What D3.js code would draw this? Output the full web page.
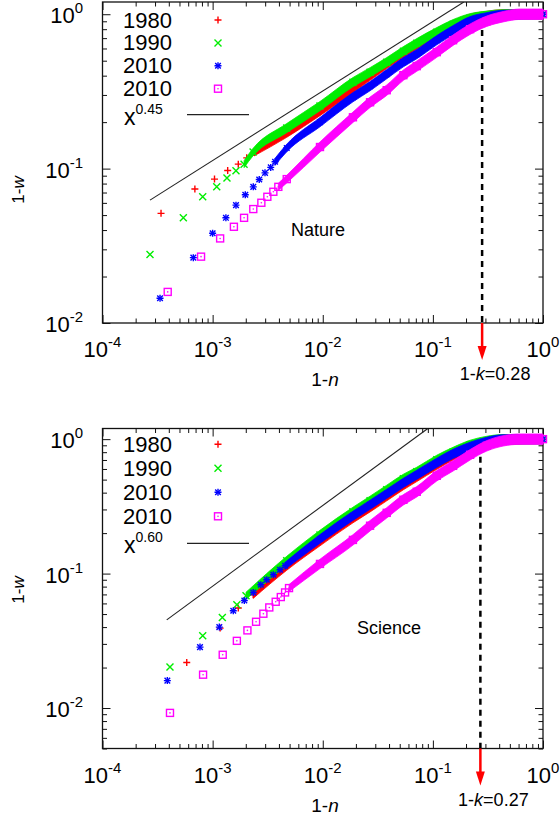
<!DOCTYPE html>
<html>
<head>
<meta charset="utf-8">
<script src="https://cdn.jsdelivr.net/npm/d3@7"></script>
<style>
  body { margin: 0; background: #fff; }
  svg { display: block; }
  text { font-family: "Liberation Sans", Arial, Helvetica, sans-serif; fill: #000; }
</style>
</head>
<body>
<svg id="chart" width="560" height="824"></svg>
<script>
// ---- data: [1-n, 1-w] ----
// Nature, individual markers at small 1-n
const nat1980 = [[3.4e-4,0.0513],[6.9e-4,0.0737],[1.04e-3,0.0855],[1.37e-3,0.0973],[1.71e-3,0.1069],[2.04e-3,0.1174],[2.38e-3,0.1273]];
const nat1990 = [[2.70e-4,0.0278],[5.42e-4,0.0480],[8.13e-4,0.0657],[1.09e-3,0.0762],[1.35e-3,0.0868],[1.63e-3,0.0968],[1.93e-3,0.1069]];
const nat2010a = [[3.33e-4,0.01445],[6.68e-4,0.0265],[1.0e-3,0.0381],[1.32e-3,0.0480],[1.63e-3,0.0580],[1.98e-3,0.0677],[2.34e-3,0.0762],[2.65e-3,0.0851],[2.99e-3,0.0939],[3.37e-3,0.1018],[3.69e-3,0.1107]];
const nat2010b = [[3.91e-4,0.0159],[7.85e-4,0.0269],[1.17e-3,0.0353],[1.56e-3,0.0420],[1.93e-3,0.0480],[2.34e-3,0.0547],[2.77e-3,0.0601],[3.14e-3,0.0657],[3.56e-3,0.0708],[3.95e-3,0.0762]];
// Nature, dense part (markers overlap into a band)
const nat1980Band = [[4.71e-3,0.170],[9.44e-3,0.236],[1.88e-2,0.332],[3.81e-2,0.476],[7.14e-2,0.635],[0.1085,0.752],[0.1526,0.850],[0.2178,0.935],[0.3088,0.975],[0.434,1.0],[1.0,1.0]];
const nat1990Band = [[2.33e-3,0.128],[4.71e-3,0.183],[9.44e-3,0.254],[1.88e-2,0.363],[2.69e-2,0.421],[3.81e-2,0.489],[5.40e-2,0.576],[7.14e-2,0.649],[0.1085,0.765],[0.1526,0.862],[0.2178,0.942],[0.3088,0.978],[0.434,1.0],[1.0,1.0]];
const nat2010aBand = [[4.71e-3,0.136],[9.44e-3,0.200],[1.88e-2,0.290],[2.69e-2,0.342],[3.81e-2,0.409],[5.40e-2,0.489],[7.14e-2,0.551],[0.1085,0.679],[0.1526,0.788],[0.2178,0.901],[0.3088,0.956],[0.434,0.99],[1.0,1.0]];
const nat2010bBand = [[4.71e-3,0.0855],[9.44e-3,0.138],[1.88e-2,0.215],[2.69e-2,0.269],[3.81e-2,0.322],[5.40e-2,0.403],[7.14e-2,0.461],[0.1085,0.568],[0.1526,0.679],[0.2178,0.800],[0.3088,0.901],[0.434,0.963],[0.619,1.0],[1.0,1.0]];

// Science
const sci1980 = [[5.82e-4,0.0218],[1.17e-3,0.0393],[1.71e-3,0.0554],[2.34e-3,0.0696]];
const sci1990 = [[4.10e-4,0.0202],[8.13e-4,0.0345],[1.225e-3,0.0472],[1.66e-3,0.0586],[2.01e-3,0.0684]];
const sci2010a = [[3.88e-4,0.0160],[7.68e-4,0.0284],[1.15e-3,0.0400],[1.54e-3,0.0529],[1.94e-3,0.0631],[2.34e-3,0.0724],[2.74e-3,0.0825],[3.10e-3,0.0899],[3.56e-3,0.0980],[4.09e-3,0.1067],[4.55e-3,0.1143]];
const sci2010b = [[4.10e-4,0.0092],[8.19e-4,0.0177],[1.235e-3,0.0249],[1.66e-3,0.0316],[2.07e-3,0.0378],[2.48e-3,0.0438],[2.89e-3,0.0503],[3.27e-3,0.0560],[3.74e-3,0.0617],[4.16e-3,0.0669],[4.55e-3,0.0724],[4.94e-3,0.0780]];
const sci1980Band = [[4.71e-3,0.114],[9.44e-3,0.174],[1.88e-2,0.258],[2.69e-2,0.311],[3.81e-2,0.376],[5.40e-2,0.455],[7.14e-2,0.523],[0.1085,0.645],[0.1526,0.757],[0.2178,0.860],[0.3088,0.945],[0.434,0.99],[1.0,1.0]];
const sci1990Band = [[4.71e-3,0.1245],[9.44e-3,0.194],[1.88e-2,0.288],[2.69e-2,0.348],[3.81e-2,0.420],[5.40e-2,0.507],[7.14e-2,0.571],[0.1085,0.702],[0.1526,0.804],[0.2178,0.907],[0.3088,0.971],[0.434,1.0],[1.0,1.0]];
const sci2010aBand = [[9.44e-3,0.181],[1.88e-2,0.269],[2.69e-2,0.325],[3.81e-2,0.392],[5.40e-2,0.473],[7.14e-2,0.543],[0.1085,0.667],[0.1526,0.777],[0.2178,0.877],[0.3088,0.955],[0.434,0.997],[1.0,1.0]];
const sci2010bBand = [[9.44e-3,0.118],[1.88e-2,0.178],[2.69e-2,0.227],[3.81e-2,0.283],[5.40e-2,0.354],[7.14e-2,0.406],[0.1085,0.534],[0.1526,0.633],[0.2178,0.765],[0.3088,0.892],[0.434,0.971],[0.619,1.0],[1.0,1.0]];

// power-law guide lines (end points) and cut-offs
const natFit = [[2.7e-4,0.0625],[0.191,1.2]];
const sciFit = [[3.83e-4,0.0453],[0.09,1.2]];
const natCut = 0.28, sciCut = 0.27;

const years = ["1980", "1990", "2010", "2010"];
const xTicks = [1e-4, 1e-3, 1e-2, 1e-1, 1];
const xTickExp = ["-4", "-3", "-2", "-1", "0"];
const yTicks = [1e-2, 1e-1, 1];
const yTickExp = ["-2", "-1", "0"];

const colors = ["#ff0000", "#00ee00", "#0000ff", "#ff00ff"];
const shapes = ["plus", "cross", "star", "box"];

const svg = d3.select("#chart");
const left = 102.5, right = 543;
const x = d3.scaleLog().domain([1e-4, 1]).range([left, right]);

function addShape(sel, shape, color) {
  const s = 3.5, d = 2.8;
  if (shape === "plus" || shape === "star")
    sel.append("path").attr("d", `M${-s},0H${s}M0,${-s}V${s}`);
  if (shape === "cross")
    sel.append("path").attr("d", `M${-s},${-s}L${s},${s}M${-s},${s}L${s},${-s}`);
  if (shape === "star")
    sel.append("path").attr("d", `M${-d},${-d}L${d},${d}M${-d},${d}L${d},${-d}`);
  if (shape === "box") {
    sel.append("rect").attr("x", -s).attr("y", -s).attr("width", 2 * s).attr("height", 2 * s);
    sel.append("circle").attr("r", 0.8).attr("fill", color).attr("stroke", "none");
  }
}

function pow10(g, px, py, e, anchor, size) {
  const t = g.append("text").attr("x", px).attr("y", py)
    .attr("text-anchor", anchor).style("font-size", size + "px");
  t.append("tspan").text("10");
  t.append("tspan").attr("dy", -0.45 * size).style("font-size", (size * 0.68) + "px").text(e);
}

function drawPanel(p, idx) {
  const y = d3.scaleLog().domain([p.yMin, 1.2]).range([p.bottom, p.top]);
  const g = svg.append("g");
  const line = d3.line().x(d => x(d[0])).y(d => y(d[1]));

  const clipId = "clip" + idx;
  g.append("clipPath").attr("id", clipId).append("rect")
    .attr("x", left).attr("y", p.top).attr("width", right - left).attr("height", p.bottom - p.top);

  // ticks on all four sides, pointing inwards
  const minor = [];
  [1e-4, 1e-3, 1e-2, 1e-1].forEach(d => { for (let m = 2; m <= 9; m++) minor.push(m * d); });
  const yMinor = [];
  [1e-3, 1e-2, 1e-1].forEach(d => { for (let m = 2; m <= 9; m++) if (m * d >= p.yMin && m * d <= 1.2) yMinor.push(m * d); });
  const sides = [
    [d3.axisBottom(x), `translate(0,${p.bottom})`, xTicks, minor],
    [d3.axisTop(x), `translate(0,${p.top})`, xTicks, minor],
    [d3.axisLeft(y), `translate(${left},0)`, yTicks, yMinor],
    [d3.axisRight(y), `translate(${right},0)`, yTicks, yMinor]
  ];
  sides.forEach(([ax, tf, major, mn]) => {
    [[major, 8], [mn, 4.5]].forEach(([vals, len]) => {
      g.append("g").attr("transform", tf)
        .call(ax.tickValues(vals).tickSize(-len).tickSizeOuter(0).tickFormat(""))
        .call(a => a.select(".domain").remove())
        .selectAll("line").attr("stroke", "#111").attr("stroke-width", 1);
    });
  });
  g.append("rect").attr("x", left).attr("y", p.top)
    .attr("width", right - left).attr("height", p.bottom - p.top)
    .attr("fill", "none").attr("stroke", "#111").attr("stroke-width", 1.3);

  // tick labels
  xTicks.forEach((v, i) => pow10(g, x(v), p.bottom + 34, xTickExp[i], "middle", 22));
  yTicks.forEach((v, i) => pow10(g, 83, y(v) + 9, yTickExp[i], "end", 22));

  // axis titles
  const yt = g.append("text").attr("transform", `translate(24,${p.yTitle}) rotate(-90)`)
    .attr("text-anchor", "middle").style("font-size", "17px");
  yt.append("tspan").text("1-");
  yt.append("tspan").style("font-style", "italic").text("w");
  const xt = g.append("text").attr("x", 325).attr("y", p.bottom + 63)
    .attr("text-anchor", "middle").style("font-size", "19px");
  xt.append("tspan").text("1-");
  xt.append("tspan").style("font-style", "italic").text("n");

  // power law guide
  g.append("path").datum(p.fit)
    .attr("clip-path", `url(#${clipId})`)
    .attr("d", line)
    .attr("stroke", "#222").attr("stroke-width", 1.1).attr("fill", "none");

  // series: where the markers overlap they form a band, about one marker wide at
  // its start and a little wider further on; then the markers themselves
  p.series.forEach((pts, i) => {
    const band = [pts[pts.length - 1]].concat(p.bands[i]);
    const full = i === 3 ? 5.2 : 4.6;
    const x0 = x(band[0][0]);
    const hw = d => 3.5 + (full - 3.5) * Math.min(1, (x(d[0]) - x0) / 45);
    const area = d3.area().x(d => x(d[0]))
      .y0(d => y(d[1]) - hw(d)).y1(d => y(d[1]) + hw(d))
      .curve(d3.curveMonotoneX);
    g.append("path").datum(band).attr("d", area)
      .attr("fill", colors[i]).attr("stroke", colors[i]).attr("stroke-width", 0.8);
    const m = g.append("g").selectAll("g").data(pts.concat(p.bands[i])).join("g")
      .attr("transform", d => `translate(${x(d[0])},${y(d[1])})`)
      .attr("stroke", colors[i]).attr("stroke-width", 1.4).attr("fill", "none");
    addShape(m, shapes[i], colors[i]);
  });

  // cut-off: dashed line and red arrow
  const cx = x(p.cut);
  g.append("line").attr("x1", cx).attr("x2", cx).attr("y1", y(p.cutTop)).attr("y2", p.bottom)
    .attr("stroke", "#000").attr("stroke-width", 2.5).attr("stroke-dasharray", "6,5");
  g.append("line").attr("x1", cx).attr("x2", cx).attr("y1", p.bottom).attr("y2", p.bottom + 26)
    .attr("stroke", "#ff0000").attr("stroke-width", 2.5);
  g.append("path")
    .attr("d", `M${cx - 4.5},${p.bottom + 23}L${cx + 4.5},${p.bottom + 23}L${cx},${p.bottom + 37}Z`)
    .attr("fill", "#ff0000");
  const kt = g.append("text").attr("x", cx + 13).attr("y", p.bottom + 57)
    .attr("text-anchor", "middle").style("font-size", "18px");
  kt.append("tspan").text("1-");
  kt.append("tspan").style("font-style", "italic").text("k");
  kt.append("tspan").text("=" + p.cut);

  // journal name
  g.append("text").attr("x", p.nameX).attr("y", p.nameY).attr("text-anchor", "middle")
    .style("font-size", "18px").text(p.name);

  // legend
  years.forEach((yr, i) => {
    const ry = p.legendY + i * p.legendStep;
    g.append("text").attr("x", 172).attr("y", ry + 7.5).attr("text-anchor", "end")
      .style("font-size", "22px").text(yr);
    const m = g.append("g").attr("transform", `translate(218,${ry})`)
      .attr("stroke", colors[i]).attr("stroke-width", 1.4).attr("fill", "none");
    addShape(m, shapes[i], colors[i]);
  });
  const fy = p.legendY + 4 * p.legendStep + 3;
  const ft = g.append("text").attr("x", 124).attr("y", fy + 10).style("font-size", "23px");
  ft.append("tspan").text("x");
  ft.append("tspan").attr("dy", -11).style("font-size", "14px").text(p.fitExp);
  g.append("line").attr("x1", 187).attr("x2", 249).attr("y1", fy).attr("y2", fy)
    .attr("stroke", "#222").attr("stroke-width", 1.2);
}

const panels = [
  { top: 2, bottom: 323, yMin: 0.01, series: [nat1980, nat1990, nat2010a, nat2010b],
    bands: [nat1980Band, nat1990Band, nat2010aBand, nat2010bBand],
    fit: natFit, fitExp: "0.45", cut: natCut, cutTop: 0.79,
    name: "Nature", nameX: 318, nameY: 236, legendY: 20, legendStep: 22.9, yTitle: 190 },
  { top: 428.5, bottom: 748.5, yMin: 0.005, series: [sci1980, sci1990, sci2010a, sci2010b],
    bands: [sci1980Band, sci1990Band, sci2010aBand, sci2010bBand],
    fit: sciFit, fitExp: "0.60", cut: sciCut, cutTop: 0.74,
    name: "Science", nameX: 389, nameY: 634, legendY: 444.3, legendStep: 24, yTitle: 590 }
];
panels.forEach(drawPanel);
</script>
</body>
</html>
